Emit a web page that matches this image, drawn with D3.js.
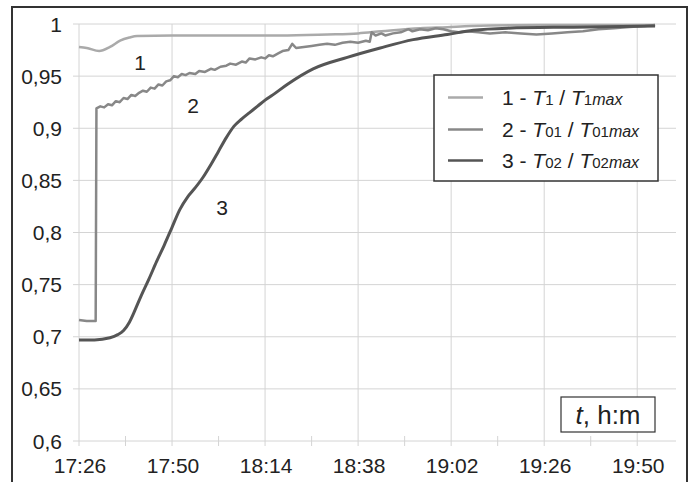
<!DOCTYPE html>
<html>
<head>
<meta charset="utf-8">
<script src="https://cdn.jsdelivr.net/npm/d3@7/dist/d3.min.js"></script>
<style>
  html, body { margin: 0; padding: 0; background: #fff; }
  svg { display: block; font-family: "Liberation Sans", Arial, sans-serif; }
</style>
</head>
<body>
<svg id="chart" width="694" height="482"></svg>
<script>
// ---- DATA (minutes after 17:26, value) ----
const xTickLabels = ["17:26", "17:50", "18:14", "18:38", "19:02", "19:26", "19:50"];
const xTickMinutes = [0, 24, 48, 72, 96, 120, 144];
const xMinorMinutes = [12, 36, 60, 84, 108, 132];
const yTickValues = [0.6, 0.65, 0.7, 0.75, 0.8, 0.85, 0.9, 0.95, 1];
const yTickLabels = ["0,6", "0,65", "0,7", "0,75", "0,8", "0,85", "0,9", "0,95", "1"];

const s1Minutes = [0, 2, 5.2, 8, 10.6, 13, 15, 24, 44, 52, 64, 72, 78, 88, 95, 101, 119, 148.6];
const s1Values  = [0.978, 0.977, 0.974, 0.978, 0.984, 0.987, 0.9885, 0.989, 0.989, 0.989, 0.990, 0.991, 0.993, 0.996, 0.997, 0.998, 0.999, 0.999];

const s2Minutes = [0, 2, 4.3, 4.5, 5.5, 6.5, 7.5, 8.5, 9.5, 10.5, 11.5, 12.5, 13.5, 14.5, 15.5, 16.5, 17.5, 18.5, 19.5,
  20.5, 21.5, 22.5, 23.5, 24.5, 25.5, 26.5, 27.5, 28.5, 30, 31, 32.5, 34, 35, 36.5, 38, 39, 40.5, 42, 43, 44, 45.5,
  47, 48, 49, 50, 51.5, 52.5, 54, 55, 56, 58, 60, 62, 64, 66, 68, 70, 72, 74, 75, 75.5, 76.5, 78, 79, 81, 83, 85, 86,
  88, 90, 92, 94, 96, 98, 100, 103, 106, 110, 114, 118, 122, 126, 130, 134, 138, 142, 146, 148.6];
const s2Values = [0.716, 0.715, 0.715, 0.919, 0.921, 0.920, 0.923, 0.922, 0.926, 0.925, 0.929, 0.928, 0.932, 0.931, 0.934,
  0.936, 0.935, 0.939, 0.938, 0.942, 0.941, 0.945, 0.946, 0.950, 0.949, 0.952, 0.951, 0.953, 0.952, 0.955, 0.954, 0.957,
  0.956, 0.959, 0.960, 0.962, 0.961, 0.964, 0.963, 0.967, 0.966, 0.968, 0.967, 0.970, 0.969, 0.972, 0.974, 0.975, 0.981,
  0.977, 0.978, 0.979, 0.980, 0.981, 0.980, 0.982, 0.983, 0.982, 0.984, 0.983, 0.992, 0.989, 0.991, 0.989, 0.991, 0.992,
  0.995, 0.993, 0.995, 0.994, 0.996, 0.995, 0.993, 0.992, 0.993, 0.992, 0.991, 0.992, 0.991, 0.990, 0.991, 0.992, 0.993,
  0.995, 0.996, 0.997, 0.998, 0.999];

const s3Minutes = [0, 4, 8, 10, 11.5, 13, 14.5, 16, 18, 20, 22, 24, 26, 28, 30, 32, 34, 36, 38, 40, 42, 44, 46, 48, 50,
  53.7, 60.4, 69.2, 77.7, 86.2, 95, 101.7, 110.5, 127.5, 148.6];
const s3Values  = [0.697, 0.697, 0.699, 0.702, 0.706, 0.714, 0.726, 0.739, 0.755, 0.772, 0.788, 0.805, 0.822, 0.834,
  0.843, 0.853, 0.865, 0.878, 0.891, 0.902, 0.909, 0.915, 0.921, 0.927, 0.932, 0.942, 0.957, 0.968, 0.977, 0.985,
  0.990, 0.994, 0.996, 0.997, 0.998];

const seriesNames = ["1", "2", "3"];
const seriesColors = ["#aaaaaa", "#888888", "#555555"];

// ---- CHART ----
const svg = d3.select("#chart");
const x = d3.scaleLinear().domain([0, 154]).range([79, 676]);
const y = d3.scaleLinear().domain([0.6, 1]).range([441, 24]);

// outer frame
svg.append("rect").attr("x", 12).attr("y", 7).attr("width", 675).attr("height", 490)
  .attr("fill", "none").attr("stroke", "#333").attr("stroke-width", 2);

const gridColor = "#d4d4d4";
svg.append("g").selectAll("line").data(yTickValues).join("line")
  .attr("x1", 73).attr("x2", 676)
  .attr("y1", d => y(d)).attr("y2", d => y(d))
  .attr("stroke", gridColor).attr("stroke-width", 1);
svg.append("g").selectAll("line").data(xTickMinutes).join("line")
  .attr("x1", d => x(d)).attr("x2", d => x(d))
  .attr("y1", y(1)).attr("y2", y(0.6) + 5)
  .attr("stroke", gridColor).attr("stroke-width", 1);
svg.append("g").selectAll("line").data(xMinorMinutes).join("line")
  .attr("x1", d => x(d)).attr("x2", d => x(d))
  .attr("y1", y(0.6) - 5).attr("y2", y(0.6) + 5)
  .attr("stroke", gridColor).attr("stroke-width", 1);

// y labels
svg.append("g").selectAll("text").data(yTickValues).join("text")
  .attr("x", 62).attr("y", d => y(d)).attr("dy", "0.36em")
  .attr("text-anchor", "end").attr("font-size", 21).attr("fill", "#222")
  .text((d, i) => yTickLabels[i]);
// x labels
svg.append("g").selectAll("text").data(xTickMinutes).join("text")
  .attr("x", d => x(d) + 1).attr("y", 473)
  .attr("text-anchor", "middle").attr("font-size", 21).attr("fill", "#222")
  .text((d, i) => xTickLabels[i]);

// lines
const straight = d3.line().x(d => x(d[0])).y(d => y(d[1]));
const smooth = d3.line().curve(d3.curveMonotoneX).x(d => x(d[0])).y(d => y(d[1]));
const series = [
  d3.zip(s1Minutes, s1Values),
  d3.zip(s2Minutes, s2Values),
  d3.zip(s3Minutes, s3Values)
];
const widths = [2.5, 2.5, 3];
series.forEach((s, i) => {
  svg.append("path").datum(s).attr("d", i === 1 ? straight(s) : smooth(s))
    .attr("fill", "none").attr("stroke", seriesColors[i]).attr("stroke-width", widths[i])
    .attr("stroke-linejoin", "round");
});

// series labels
const labelPos = [[140, 62], [193, 105], [222, 207]];
seriesNames.forEach((n, i) => {
  svg.append("text").attr("x", labelPos[i][0]).attr("y", labelPos[i][1]).attr("dy", "0.36em")
    .attr("text-anchor", "middle").attr("font-size", 21).attr("fill", "#222").text(n);
});

// legend
svg.append("rect").attr("x", 434).attr("y", 75).attr("width", 224).attr("height", 106)
  .attr("fill", "#fff").attr("stroke", "#333").attr("stroke-width", 1.5);
const legendSubs = ["1", "01", "02"];
const legendBase = [105, 137, 168];
seriesNames.forEach((n, i) => {
  const by = legendBase[i];
  svg.append("line").attr("x1", 448).attr("x2", 483).attr("y1", by - 7.5).attr("y2", by - 7.5)
    .attr("stroke", seriesColors[i]).attr("stroke-width", 2.5);
  const t = svg.append("text").attr("x", 502).attr("y", by).attr("font-size", 21).attr("fill", "#222");
  t.append("tspan").text(n + " - ");
  t.append("tspan").attr("font-style", "italic").text("T");
  t.append("tspan").attr("font-size", 15).text(legendSubs[i]);
  t.append("tspan").text(" / ");
  t.append("tspan").attr("font-style", "italic").text("T");
  t.append("tspan").attr("font-size", 15).text(legendSubs[i]);
  t.append("tspan").attr("font-size", 16).attr("font-style", "italic").text("max");
});

// axis title box
svg.append("rect").attr("x", 561).attr("y", 397).attr("width", 94).attr("height", 35)
  .attr("fill", "#fff").attr("stroke", "#333").attr("stroke-width", 1.2);
const at = svg.append("text").attr("x", 608).attr("y", 424).attr("text-anchor", "middle")
  .attr("font-size", 26).attr("fill", "#222");
at.append("tspan").attr("font-style", "italic").text("t");
at.append("tspan").text(", h:m");
</script>
</body>
</html>
